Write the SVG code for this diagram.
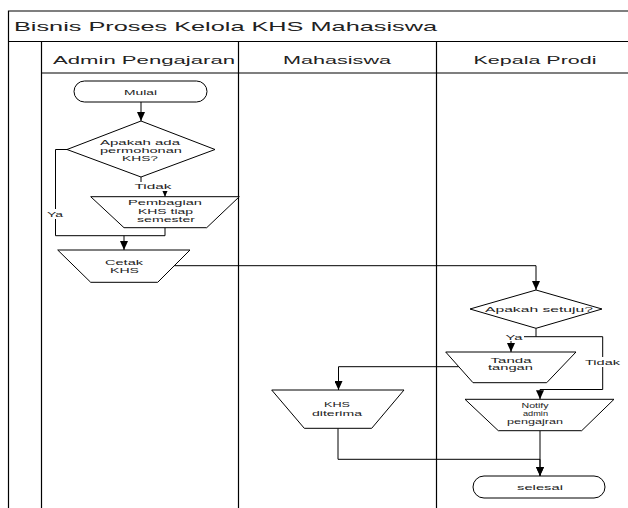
<svg xmlns="http://www.w3.org/2000/svg" width="628" height="508" viewBox="0 0 628 508">
<style>
.lane{stroke:#000;stroke-width:1.2;fill:none}
.shape{fill:#fff;stroke:#000;stroke-width:1}
.conn{fill:none;stroke:#000;stroke-width:1}
text{font-family:"Liberation Sans",Arial,sans-serif;fill:#222;text-anchor:middle}
.t{font-size:7.5px}
.h{font-size:11.5px}
.title{font-size:13px;text-anchor:start}
.lbl{fill:#fff;stroke:none}
</style>
<defs>
<marker id="arr" markerUnits="userSpaceOnUse" markerWidth="10" markerHeight="8" refX="9" refY="4" orient="auto">
<path d="M0,0 L9,4 L0,8 z" fill="#000"/>
</marker>
</defs>
<rect width="628" height="508" fill="#fff"/>
<g id="pool">
<path class="lane" d="M8.5,508 V11 H628 M8.5,41.5 H628 M41.5,41.5 V508 M41.5,73 H628 M238.5,41.5 V508 M436.5,41.5 V508"/>
<text class="title" x="14" y="30.5" textLength="423" lengthAdjust="spacingAndGlyphs">Bisnis Proses Kelola KHS Mahasiswa</text>
<text class="h" x="144" y="64" textLength="182" lengthAdjust="spacingAndGlyphs">Admin Pengajaran</text>
<text class="h" x="337" y="64" textLength="108" lengthAdjust="spacingAndGlyphs">Mahasiswa</text>
<text class="h" x="535" y="64" textLength="123" lengthAdjust="spacingAndGlyphs">Kepala Prodi</text>
</g>
<g id="connectors">
<path class="conn" d="M141,102 V121" marker-end="url(#arr)"/>
<path class="conn" d="M141,177 V187 H165 V196.7" marker-end="url(#arr)"/>
<path class="conn" d="M67,149.5 H55.5 V235.7 H124 V250" marker-end="url(#arr)"/>
<path class="conn" d="M165,227.7 V235.7 H124"/>
<path class="conn" d="M174.3,265.7 H536 V290" marker-end="url(#arr)"/>
<path class="conn" d="M536,328.3 V336.7 H511 V352" marker-end="url(#arr)"/>
<path class="conn" d="M536,336.7 H602.7 V389.5 H540 V399.3" marker-end="url(#arr)"/>
<path class="conn" d="M458.8,366.7 H338.5 V390" marker-end="url(#arr)"/>
<path class="conn" d="M338,428.3 V459.3 H540 V476" marker-end="url(#arr)"/>
<path class="conn" d="M540,430.7 V476" marker-end="url(#arr)"/>
<rect class="lbl" x="134" y="182" width="39" height="9"/>
<text class="t" x="153" y="189" textLength="37" lengthAdjust="spacingAndGlyphs">Tidak</text>
<rect class="lbl" x="46" y="209" width="19" height="10"/>
<text class="t" x="55" y="217" textLength="16" lengthAdjust="spacingAndGlyphs">Ya</text>
<rect class="lbl" x="505" y="332" width="19" height="9"/>
<text class="t" x="514" y="339.5" textLength="17" lengthAdjust="spacingAndGlyphs">Ya</text>
<rect class="lbl" x="584" y="357" width="37" height="10"/>
<text class="t" x="602.5" y="365" textLength="35" lengthAdjust="spacingAndGlyphs">Tidak</text>
</g>
<g id="mulai">
<rect class="shape" x="74" y="81" width="133" height="21" rx="10.5"/>
<text class="t" x="140.5" y="94.5" textLength="33" lengthAdjust="spacingAndGlyphs">Mulai</text>
</g>
<g id="cek-permohonan">
<polygon class="shape" points="141,121 215,149.5 141,177 67,149.5"/>
<text class="t" x="140" y="145" textLength="80" lengthAdjust="spacingAndGlyphs">Apakah ada</text>
<text class="t" x="141" y="153" textLength="82" lengthAdjust="spacingAndGlyphs">permohonan</text>
<text class="t" x="140" y="161" textLength="36" lengthAdjust="spacingAndGlyphs">KHS?</text>
</g>
<g id="pembagian">
<polygon class="shape" points="90.7,196.7 239.3,196.7 206.7,227.7 124,227.7"/>
<text class="t" x="165" y="205" textLength="74" lengthAdjust="spacingAndGlyphs">Pembagian</text>
<text class="t" x="165.5" y="213.5" textLength="55" lengthAdjust="spacingAndGlyphs">KHS tiap</text>
<text class="t" x="166" y="222" textLength="58" lengthAdjust="spacingAndGlyphs">semester</text>
</g>
<g id="cetak">
<polygon class="shape" points="57.7,250 190,250 157.7,282.3 90.7,282.3"/>
<text class="t" x="124" y="265" textLength="38" lengthAdjust="spacingAndGlyphs">Cetak</text>
<text class="t" x="124.5" y="273" textLength="29" lengthAdjust="spacingAndGlyphs">KHS</text>
</g>
<g id="cek-setuju">
<polygon class="shape" points="536,290 602,309 536,328.3 470,309"/>
<text class="t" x="539" y="312" textLength="108" lengthAdjust="spacingAndGlyphs">Apakah setuju?</text>
</g>
<g id="tanda-tangan">
<polygon class="shape" points="445.7,352 576,352 546.7,382.7 473,382.7"/>
<text class="t" x="511" y="362.5" textLength="41" lengthAdjust="spacingAndGlyphs">Tanda</text>
<text class="t" x="510.5" y="370" textLength="45" lengthAdjust="spacingAndGlyphs">tangan</text>
</g>
<g id="khs-diterima">
<polygon class="shape" points="271.7,390 404,390 371.7,428.3 304.3,428.3"/>
<text class="t" x="337" y="407" textLength="26" lengthAdjust="spacingAndGlyphs">KHS</text>
<text class="t" x="337" y="415.5" textLength="50" lengthAdjust="spacingAndGlyphs">diterima</text>
</g>
<g id="notify">
<polygon class="shape" points="465,399.3 614,399.3 581.7,430.7 498.3,430.7"/>
<text class="t" x="535" y="407.5" textLength="27" lengthAdjust="spacingAndGlyphs">Notify</text>
<text class="t" x="535.5" y="415.5" textLength="25" lengthAdjust="spacingAndGlyphs">admin</text>
<text class="t" x="535" y="423.5" textLength="56" lengthAdjust="spacingAndGlyphs">pengajran</text>
</g>
<g id="selesai">
<rect class="shape" x="473" y="476" width="132" height="22" rx="11"/>
<text class="t" x="540" y="490" textLength="46" lengthAdjust="spacingAndGlyphs">selesai</text>
</g>
</svg>
